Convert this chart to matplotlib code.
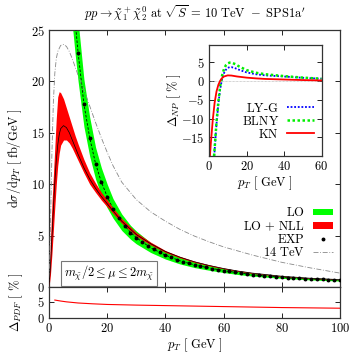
import matplotlib
matplotlib.use("Agg")
import matplotlib.pyplot as plt
from matplotlib.lines import Line2D
from matplotlib.patches import Patch
from matplotlib.ticker import FuncFormatter

plt.rcParams['font.family'] = 'serif'
plt.rcParams['font.serif'] = ['cmr10', 'DejaVu Serif']
plt.rcParams['mathtext.fontset'] = 'cm'
plt.rcParams['axes.formatter.use_mathtext'] = True
plt.rcParams['font.size'] = 9

FS = 9

# ---------------- data ----------------
# LO (green band + black dashed central)
lo_x = [8, 9, 10, 12, 14, 16, 18, 20, 22, 25, 28, 30, 35, 40, 45, 50, 55, 60, 65, 70, 80, 90, 100]
lo_c = [29.0, 25.8, 22.8, 17.8, 14.5, 12.0, 10.2, 8.8, 7.6, 6.3, 5.3, 4.8, 3.8, 3.1, 2.55, 2.15, 1.85, 1.6, 1.38, 1.2, 0.95, 0.78, 0.66]
lo_hi = [33.0, 29.3, 25.9, 20.2, 16.5, 13.6, 11.6, 10.0, 8.6, 7.1, 6.0, 5.45, 4.3, 3.5, 2.88, 2.43, 2.09, 1.81, 1.56, 1.36, 1.07, 0.88, 0.75]
lo_lo = [25.5, 22.6, 20.0, 15.6, 12.7, 10.5, 8.9, 7.7, 6.7, 5.5, 4.65, 4.2, 3.35, 2.72, 2.24, 1.89, 1.63, 1.41, 1.21, 1.06, 0.84, 0.69, 0.58]

# LO + NLL (red band + black central)
nll_x = [0, 0.5, 1, 1.5, 2, 2.5, 3, 3.5, 4, 5, 6, 7, 8, 9, 10, 12, 14, 16, 18, 20, 22, 25, 30, 35, 40, 45, 50, 55, 60, 65, 70, 80, 90, 100]
nll_c = [0, 2.0, 4.8, 7.6, 10.2, 12.3, 13.8, 14.8, 15.4, 15.7, 15.5, 15.0, 14.3, 13.6, 12.9, 11.6, 10.5, 9.6, 8.8, 8.1, 7.4, 6.4, 5.1, 4.2, 3.45, 2.9, 2.45, 2.1, 1.8, 1.55, 1.35, 1.05, 0.85, 0.72]
nll_hi = [0, 4.5, 8.0, 10.8, 13.6, 16.4, 18.5, 19.0, 18.9, 18.3, 17.4, 16.5, 15.6, 14.7, 13.9, 12.4, 11.1, 10.1, 9.2, 8.45, 7.7, 6.65, 5.3, 4.35, 3.55, 2.98, 2.52, 2.16, 1.85, 1.6, 1.39, 1.08, 0.88, 0.74]
nll_lo = [0, 1.2, 3.2, 5.5, 7.8, 10.0, 11.8, 13.0, 13.8, 14.3, 14.3, 14.0, 13.5, 12.9, 12.3, 11.1, 10.0, 9.2, 8.45, 7.8, 7.15, 6.2, 4.95, 4.08, 3.36, 2.83, 2.39, 2.05, 1.76, 1.51, 1.32, 1.02, 0.83, 0.70]

# EXP points
exp_x = list(range(10, 101, 2))
exp_y = [22.8, 17.8, 14.5, 12.0, 10.2, 8.8, 7.6, 6.7, 5.95, 5.3, 4.8, 4.35, 3.98, 3.65, 3.36, 3.1,
         2.87, 2.66, 2.47, 2.3, 2.15, 2.02, 1.9, 1.79, 1.69, 1.6, 1.51, 1.42, 1.34, 1.27, 1.2,
         1.14, 1.09, 1.04, 0.99, 0.95, 0.91, 0.88, 0.84, 0.81, 0.78, 0.75, 0.73, 0.70, 0.68, 0.66]

# 14 TeV
t14_x = [0, 0.5, 1, 1.5, 2, 2.5, 3, 4, 5, 6, 7, 8, 10, 12, 14, 16, 18, 20, 22, 25, 30, 35, 40, 45, 50, 55, 60, 65, 70, 80, 90, 100]
t14_y = [0, 6.0, 13.0, 18.0, 20.8, 22.2, 22.9, 23.5, 23.6, 23.4, 22.9, 22.2, 20.6, 19.2, 17.6, 16.0, 14.5, 13.1, 11.8, 10.2, 8.5, 7.3, 6.4, 5.6, 4.95, 4.4, 3.9, 3.5, 3.1, 2.4, 1.85, 1.35]

# PDF uncertainty
pdf_x = [2, 4, 6, 10, 15, 20, 30, 40, 50, 60, 70, 80, 90, 100]
pdf_y = [5.5, 5.2, 4.95, 4.6, 4.35, 4.15, 3.95, 3.8, 3.65, 3.5, 3.35, 3.2, 3.1, 3.0]

# Inset: non-perturbative
kn_x = [0.5, 1, 2, 3, 4, 5, 6, 7, 8, 10, 12, 15, 20, 25, 30, 40, 50, 60]
kn_y = [-20, -16.5, -10.4, -5.8, -2.8, -1.0, 0.1, 0.8, 1.2, 1.5, 1.45, 1.2, 0.9, 0.7, 0.55, 0.4, 0.25, 0.15]
blny_x = [2.7, 3, 4, 5, 6, 7, 8, 9, 10, 11, 12, 14, 16, 20, 25, 30, 40, 50, 60]
blny_y = [-20, -18, -11, -5.5, -1.2, 1.5, 3.2, 4.2, 4.7, 4.9, 4.9, 4.5, 3.9, 2.9, 2.2, 1.8, 1.3, 0.9, 0.6]
lyg_x = [2.8, 3, 4, 5, 6, 7, 8, 9, 10, 11, 12, 14, 16, 20, 25, 30, 40, 50, 60]
lyg_y = [-20, -18.5, -11.5, -6.0, -2.0, 0.6, 2.1, 3.0, 3.5, 3.7, 3.7, 3.4, 3.0, 2.3, 1.8, 1.5, 1.2, 0.85, 0.6]

# ---------------- figure ----------------
fig = plt.figure(figsize=(3.57, 3.60), dpi=100)
W, H = 357.0, 360.0
ax = fig.add_axes([49 / W, 1 - 287 / H, 291 / W, 257 / H])
axb = fig.add_axes([49 / W, 1 - 318 / H, 291 / W, 31 / H], sharex=ax)
axi = fig.add_axes([209 / W, 1 - 156 / H, 112.5 / W, 111 / H])

mfmt = FuncFormatter(lambda v, p: r'$%g$' % v)

for a in (ax, axb, axi):
    a.tick_params(direction='in', length=3.5, width=0.6, top=True, right=True, labelsize=FS, pad=3)
    for s in a.spines.values():
        s.set_linewidth(0.9)
        s.set_color('#333333')

# main
ax.fill_between(lo_x, lo_lo, lo_hi, color='#00ff00', lw=0, zorder=2)
ax.plot(lo_x, lo_c, color='black', lw=0.6, ls=(0, (3, 2)), zorder=3)
ax.fill_between(nll_x, nll_lo, nll_hi, color='#ff0000', lw=0, zorder=4)
ax.plot(nll_x, nll_c, color='black', lw=0.5, zorder=5)
ax.plot(exp_x, exp_y, 'o', color='black', ms=1.8, zorder=6)
ax.plot(t14_x, t14_y, color='#888888', lw=0.6, ls=(0, (6, 2, 1, 2)), zorder=3)

ax.set_xlim(0, 100)
ax.set_ylim(0, 25)
ax.set_yticks([0, 5, 10, 15, 20, 25])
ax.yaxis.set_major_formatter(mfmt)
ax.set_xticks([0, 20, 40, 60, 80, 100])
ax.tick_params(labelbottom=False)
ax.set_ylabel(r'$\mathrm{d}\sigma/\mathrm{d}p_T\ [\ \mathrm{fb/GeV}\ ]$', fontsize=FS, labelpad=5)
ax.set_title(r"$pp \to \tilde{\chi}^+_1\tilde{\chi}^0_2\ \mathrm{at}\ \sqrt{S}\,=\,10\ \mathrm{TeV}\ -\ \mathrm{SPS1a'}$",
             fontsize=FS, pad=9)

handles = [Patch(facecolor='#00ff00', edgecolor='none'),
           Patch(facecolor='#ff0000', edgecolor='none'),
           Line2D([], [], marker='o', ls='none', color='black', ms=1.8),
           Line2D([], [], color='#888888', lw=0.6, ls=(0, (6, 2, 1, 2)))]
labels = [r'$\mathrm{LO}$', r'$\mathrm{LO}\,+\,\mathrm{NLL}$', r'$\mathrm{EXP}$', r'$14\ \mathrm{TeV}$']
leg = ax.legend(handles, labels, loc='lower right', bbox_to_anchor=(1.0, 0.08), frameon=False,
                markerfirst=False, fontsize=FS, handlelength=1.6, handleheight=0.45,
                labelspacing=0.0, handletextpad=0.6, borderaxespad=0.2)

ax.text(0.205, 0.052, r'$m_{\tilde{\chi}}/2 \leq \mu \leq 2m_{\tilde{\chi}}$', transform=ax.transAxes,
        ha='center', va='center', fontsize=FS,
        bbox=dict(boxstyle='square,pad=0.25', facecolor='white', edgecolor='#777777', lw=0.8))

# bottom panel
axb.plot(pdf_x, pdf_y, color='#ff0000', lw=0.8)
axb.set_ylim(0, 9.5)
axb.set_yticks([0, 5])
axb.yaxis.set_major_formatter(mfmt)
axb.xaxis.set_major_formatter(mfmt)
axb.set_xticks([0, 20, 40, 60, 80, 100])
axb.set_xlabel(r'$p_T\ [\ \mathrm{GeV}\ ]$', fontsize=FS, labelpad=1)
axb.set_ylabel(r'$\Delta_{PDF}\ [\ \%\ ]$', fontsize=FS, labelpad=9)

# inset
axi.set_facecolor('white')
axi.axhline(0, color='#aaaaaa', lw=0.5, ls=(0, (1, 1)))
axi.plot(lyg_x, lyg_y, color='#0000ff', lw=1.3, ls=(0, (1, 1)), label=r'$\mathrm{LY}$-$\mathrm{G}$')
axi.plot(blny_x, blny_y, color='#00ee00', lw=1.8, ls=(0, (1, 1)), label=r'$\mathrm{BLNY}$')
axi.plot(kn_x, kn_y, color='#ff0000', lw=1.3, label=r'$\mathrm{KN}$')
axi.set_xlim(0, 60)
axi.set_ylim(-20, 9.6)
axi.set_xticks([0, 20, 40, 60])
axi.set_yticks([5, 0, -5, -10, -15])
axi.xaxis.set_major_formatter(mfmt)
axi.yaxis.set_major_formatter(mfmt)
axi.set_xlabel(r'$p_T\ [\ \mathrm{GeV}\ ]$', fontsize=FS, labelpad=1)
axi.set_ylabel(r'$\Delta_{NP}\ [\ \%\ ]$', fontsize=FS, labelpad=-1)
axi.legend(loc='lower right', bbox_to_anchor=(1.0, 0.07), frameon=False, markerfirst=False,
           fontsize=FS, handlelength=2.2, labelspacing=0.0, handletextpad=0.6, borderaxespad=0.2)

fig.savefig('out.png', dpi=100)
